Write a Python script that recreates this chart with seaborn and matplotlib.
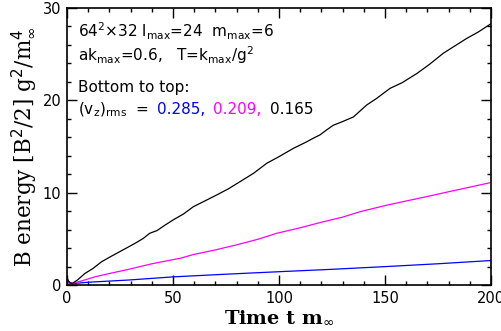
import matplotlib
matplotlib.use("Agg")
import matplotlib.pyplot as plt
from matplotlib.ticker import MultipleLocator
import seaborn as sns
import pandas as pd

# ---- data ----
t_black = [0, 0.5, 1.5, 2.5, 5, 8.5, 12, 16.4, 20, 24, 28, 32, 36, 39, 42.5, 46, 50, 55,
           59.6, 65, 70.6, 76, 81.6, 88, 94.2, 100, 106.8, 113, 116.2, 119.3, 122.5, 125.6,
           130, 135.1, 141.4, 146, 152.4, 158, 165, 171, 177.5, 183, 188.5, 194, 200]
e_black = [0.9, 0.5, 0.25, 0.18, 0.55, 1.26, 1.75, 2.53, 3.0, 3.5, 4.0, 4.5, 5.05, 5.6, 5.9,
           6.45, 7.04, 7.7, 8.48, 9.1, 9.75, 10.4, 11.19, 12.1, 13.18, 13.9, 14.8, 15.5, 15.9,
           16.25, 16.8, 17.3, 17.7, 18.2, 19.5, 20.2, 21.3, 21.9, 22.9, 23.9, 25.1, 25.9, 26.7,
           27.4, 28.3]
t_mag = [0, 1, 2.5, 7, 13.4, 20.3, 29.1, 40, 53.5, 59.6, 70, 80, 90, 98.9, 110, 120, 130,
         138.2, 150, 160, 169.6, 180, 190, 200]
e_mag = [0.6, 0.3, 0.18, 0.45, 0.9, 1.26, 1.7, 2.3, 2.9, 3.3, 3.8, 4.35, 4.95, 5.6, 6.2, 6.8,
         7.35, 7.94, 8.6, 9.1, 9.57, 10.1, 10.6, 11.1]
t_blue = [0, 1, 2.5, 10, 29.1, 50, 75, 100, 125, 150, 175, 200]
e_blue = [0.4, 0.2, 0.15, 0.3, 0.54, 0.88, 1.17, 1.44, 1.7, 1.99, 2.3, 2.65]

vz_labels = ["0.285,", "0.209,", "0.165"]
series_colors = ["#0000ff", "#ff00ff", "#000000"]

sns.set_style("ticks")
plt.rcParams['font.family'] = ['DejaVu Sans']
plt.rcParams['mathtext.fontset'] = 'dejavusans'
plt.rcParams['text.color'] = 'black'
plt.rcParams['axes.labelcolor'] = 'black'
plt.rcParams['xtick.color'] = 'black'
plt.rcParams['ytick.color'] = 'black'
plt.rcParams['axes.edgecolor'] = 'black'

fig = plt.figure(figsize=(5.02, 3.31), dpi=100)
ax = fig.add_axes([67/502, 1-285/331, (491-67)/502, (285-8)/331])

for tt, ee, c in zip([t_blue, t_mag, t_black], [e_blue, e_mag, e_black], series_colors):
    df = pd.DataFrame({"t": tt, "e": ee})
    sns.lineplot(data=df, x="t", y="e", color=c, lw=0.9, ax=ax, sort=False)

ax.set_xlim(0, 200)
ax.set_ylim(0, 30)
ax.xaxis.set_major_locator(MultipleLocator(50))
ax.xaxis.set_minor_locator(MultipleLocator(10))
ax.yaxis.set_major_locator(MultipleLocator(10))
ax.yaxis.set_minor_locator(MultipleLocator(2))
ax.tick_params(which='both', direction='in', top=True, right=True, width=1.0,
               labelsize=10.5, colors='black')
ax.tick_params(which='major', length=7, pad=4)
ax.tick_params(which='minor', length=3.2)
for s in ax.spines.values():
    s.set_linewidth(1.2)
    s.set_color('black')

ax.set_xlabel(r"Time t m$_\infty$", fontsize=14, family="DejaVu Serif", fontweight="bold", labelpad=2)
ax.set_ylabel(r"B energy [B$^2$/2] g$^2$/m$_\infty^4$", fontsize=15.5, family="DejaVu Serif", labelpad=3)

fs = 11
ax.text(78/502, 1-37/331, r"64$^2$×32 l$_{\rm max}$=24  m$_{\rm max}$=6", transform=fig.transFigure, fontsize=fs, va='baseline')
ax.text(78/502, 1-61/331, r"ak$_{\rm max}$=0.6,   T=k$_{\rm max}$/g$^2$", transform=fig.transFigure, fontsize=fs, va='baseline')
ax.text(78/502, 1-92/331, "Bottom to top:", transform=fig.transFigure, fontsize=fs, va='baseline')
ax.text(78/502, 1-114/331, r"(v$_{\rm z}$)$_{\rm rms}$  =", transform=fig.transFigure, fontsize=fs, va='baseline')
for lab, c, x in zip(vz_labels, series_colors, [157, 213, 270]):
    ax.text(x/502, 1-114/331, lab, color=c, transform=fig.transFigure, fontsize=fs, va='baseline')

fig.savefig("out.png", dpi=100)
